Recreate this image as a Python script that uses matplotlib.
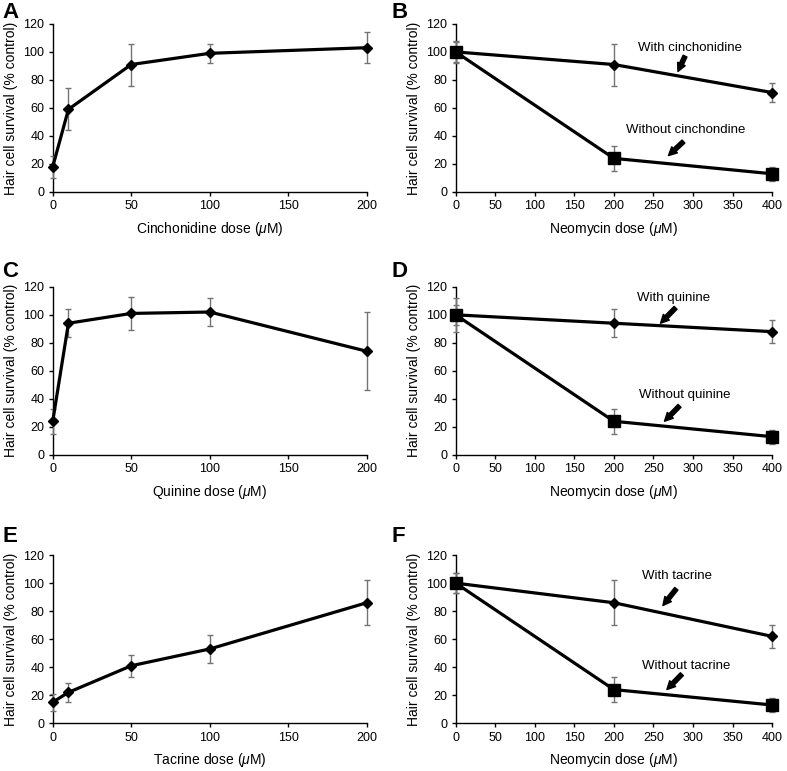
import matplotlib
matplotlib.use("Agg")
import matplotlib.pyplot as plt

plt.rcParams['font.family'] = ['Liberation Sans', 'DejaVu Sans']
plt.rcParams['mathtext.fontset'] = 'custom'
plt.rcParams['mathtext.it'] = 'Liberation Sans:italic'
plt.rcParams['mathtext.rm'] = 'Liberation Sans'

# dose-response panels (A, C, E)
doseX = [0, 10, 50, 100, 200]
cinchY = [18, 59, 91, 99, 103]
cinchErr = [8, 15, 15, 7, 11]
quinY = [24, 94, 101, 102, 74]
quinErr = [9, 10, 12, 10, 28]
tacY = [15, 22, 41, 53, 86]
tacErr = [6, 7, 8, 10, 16]

# neomycin panels (B, D, F)
neoX = [0, 200, 400]
withoutY = [100, 24, 13]
withoutErr = [7, 9, 5]
withCinchY = [100, 91, 71]
withCinchErr = [8, 15, 7]
withQuinY = [100, 94, 88]
withQuinErr = [12, 10, 8]
withTacY = [100, 86, 62]
withTacErr = [7, 16, 8]

ylab = 'Hair cell survival (% control)'
mu = r'($\mathit{\mu}$M)'

fig = plt.figure(figsize=(7.87, 7.71), dpi=100)

def style_ax(ax, xmax, xstep):
    ax.set_xlim(0, xmax)
    ax.set_ylim(0, 120)
    ax.set_yticks(range(0, 121, 20))
    ax.set_xticks(range(0, xmax + 1, xstep))
    ax.spines['top'].set_visible(False)
    ax.spines['right'].set_visible(False)
    ax.spines['left'].set_linewidth(1.0)
    ax.spines['bottom'].set_linewidth(1.0)
    ax.tick_params(labelsize=9, length=3, width=1.0, pad=3)
    ax.set_ylabel(ylab, fontsize=10, labelpad=4)

def draw_series(ax, x, y, err, marker, ms):
    ax.errorbar(x, y, yerr=err, color='black', ecolor='0.45', elinewidth=1.0,
                capsize=2.5, capthick=1.0, lw=2.3, marker=marker, ms=ms,
                mfc='black', mec='black', clip_on=False, zorder=3)

def arrow(ax, head, tail):
    ax.annotate('', xy=head, xytext=tail,
                arrowprops=dict(arrowstyle='simple,head_width=0.6,head_length=0.6,tail_width=0.3',
                                color='black', shrinkA=0, shrinkB=0))

left1, left2 = 0.067, 0.579
w1, w2 = 0.399, 0.402
h = 0.218
bottoms = [0.751, 0.410, 0.062]
lpad = 5.5

# A
ax = fig.add_axes([left1, bottoms[0], w1, h])
draw_series(ax, doseX, cinchY, cinchErr, 'D', 5.5)
style_ax(ax, 200, 50)
ax.set_xlabel('Cinchonidine dose ' + mu, fontsize=10, labelpad=lpad)

# B
ax = fig.add_axes([left2, bottoms[0], w2, h])
draw_series(ax, neoX, withCinchY, withCinchErr, 'D', 5.5)
draw_series(ax, neoX, withoutY, withoutErr, 's', 8)
style_ax(ax, 400, 50)
ax.set_xlabel('Neomycin dose ' + mu, fontsize=10, labelpad=lpad)
ax.text(296, 103, 'With cinchonidine', fontsize=9.5, ha='center', va='center')
arrow(ax, (281, 86), (290, 97))
ax.text(291, 44, 'Without cinchondine', fontsize=9.5, ha='center', va='center')
arrow(ax, (269, 26), (288, 36))

# C
ax = fig.add_axes([left1, bottoms[1], w1, h])
draw_series(ax, doseX, quinY, quinErr, 'D', 5.5)
style_ax(ax, 200, 50)
ax.set_xlabel('Quinine dose ' + mu, fontsize=10, labelpad=lpad)

# D
ax = fig.add_axes([left2, bottoms[1], w2, h])
draw_series(ax, neoX, withQuinY, withQuinErr, 'D', 5.5)
draw_series(ax, neoX, withoutY, withoutErr, 's', 8)
style_ax(ax, 400, 50)
ax.set_xlabel('Neomycin dose ' + mu, fontsize=10, labelpad=lpad)
ax.text(275, 112, 'With quinine', fontsize=9.5, ha='center', va='center')
arrow(ax, (259, 94), (278, 105))
ax.text(289, 43, 'Without quinine', fontsize=9.5, ha='center', va='center')
arrow(ax, (264, 24), (283, 35))

# E
ax = fig.add_axes([left1, bottoms[2], w1, h])
draw_series(ax, doseX, tacY, tacErr, 'D', 5.5)
style_ax(ax, 200, 50)
ax.set_xlabel('Tacrine dose ' + mu, fontsize=10, labelpad=lpad)

# F
ax = fig.add_axes([left2, bottoms[2], w2, h])
draw_series(ax, neoX, withTacY, withTacErr, 'D', 5.5)
draw_series(ax, neoX, withoutY, withoutErr, 's', 8)
style_ax(ax, 400, 50)
ax.set_xlabel('Neomycin dose ' + mu, fontsize=10, labelpad=lpad)
ax.text(280, 105, 'With tacrine', fontsize=9.5, ha='center', va='center')
arrow(ax, (262, 84), (279, 96))
ax.text(292, 41, 'Without tacrine', fontsize=9.5, ha='center', va='center')
arrow(ax, (267, 24), (286, 35))

# panel letters
for lbl, x, y in [('A', 0.003, 0.998), ('B', 0.497, 0.998), ('C', 0.003, 0.662),
                  ('D', 0.497, 0.662), ('E', 0.003, 0.318), ('F', 0.497, 0.318)]:
    fig.text(x, y, lbl, fontsize=16, fontweight='bold', ha='left', va='top')

fig.savefig('out.png', dpi=100)
